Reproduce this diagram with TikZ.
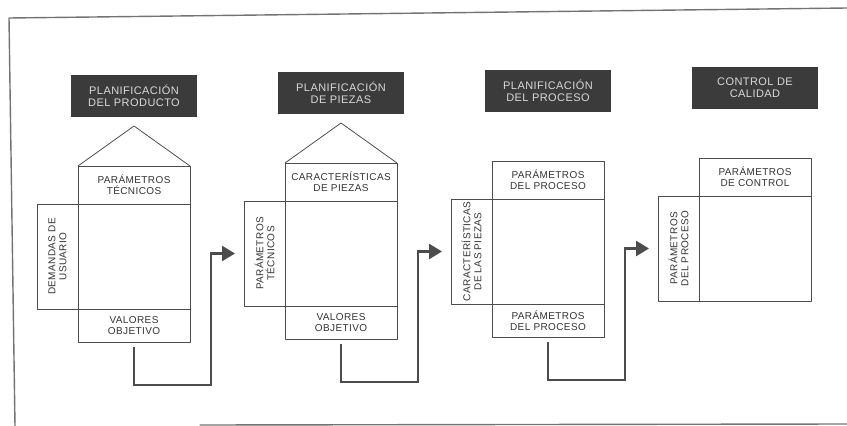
\documentclass[tikz,border=0pt]{standalone}
\usepackage{fontspec}
\setmainfont{Liberation Sans}[LetterSpace=4]
\usetikzlibrary{positioning,arrows.meta}
\definecolor{darkbox}{rgb}{0.23,0.23,0.23}
\definecolor{paletext}{rgb}{0.85,0.85,0.85}
\definecolor{linegray}{rgb}{0.3,0.3,0.3}
\definecolor{arrowgray}{rgb}{0.3,0.3,0.3}

\begin{document}
\begin{tikzpicture}[line cap=round,line join=round,x=1pt,y=-1pt,
  titlebox/.style={fill=darkbox,text=paletext,minimum width=126pt,minimum height=42pt,inner sep=0pt,align=center,font=\fontsize{11}{11.5}\selectfont},
  box/.style={draw=linegray,line width=0.8pt,inner sep=0pt,outer sep=0pt},
  lbl/.style={align=center,text=black!80,font=\fontsize{10}{11}\selectfont},
  flow/.style={draw=arrowgray,line width=2.6pt,line cap=butt,line join=miter,-{Triangle[length=13pt,width=15pt]},shorten <=5pt,shorten >=9pt},
  border/.style={draw=black!55,line width=1.4pt}]
\useasboundingbox (0,0) rectangle (847,426);
\draw[border] (847,8) -- (9,18) -- (15,426);
\draw[border] (200,425) -- (847,424);
% planificacion del producto
\node[box,lbl,minimum width=112pt,minimum height=38pt,anchor=north west] (t1) at (78,166) {PARÁMETROS\\TÉCNICOS};
\node[box,minimum width=112pt,minimum height=105pt,below=0pt of t1] (m1) {};
\node[box,minimum width=41pt,minimum height=105pt,left=0pt of m1] (l1) {};
\node[lbl,rotate=90] (l1txt) at (l1) {DEMANDAS DE\\USUARIO};
\node[box,lbl,minimum width=112pt,minimum height=33pt,below=0pt of m1] (b1) {VALORES\\OBJETIVO};
\node[titlebox,above=49pt of t1] (h1) {PLANIFICACIÓN\\DEL PRODUCTO};
\coordinate (a1) at ([yshift=40pt]t1.north);
\draw[box] (t1.north west) -- (a1) -- (t1.north east);
% planificacion de piezas
\node[box,lbl,minimum width=112pt,minimum height=38pt,anchor=north west] (t2) at (285,163) {CARACTERÍSTICAS\\DE PIEZAS};
\node[box,minimum width=112pt,minimum height=105pt,below=0pt of t2] (m2) {};
\node[box,minimum width=41pt,minimum height=105pt,left=0pt of m2] (l2) {};
\node[lbl,rotate=90] (l2txt) at (l2) {PARÁMETROS\\TÉCNICOS};
\node[box,lbl,minimum width=112pt,minimum height=33pt,below=0pt of m2] (b2) {VALORES\\OBJETIVO};
\node[titlebox,above=49pt of t2] (h2) {PLANIFICACIÓN\\DE PIEZAS};
\coordinate (a2) at ([yshift=40pt]t2.north);
\draw[box] (t2.north west) -- (a2) -- (t2.north east);
% planificacion del proceso
\node[box,lbl,minimum width=112pt,minimum height=38pt,anchor=north west] (t3) at (492,161) {PARÁMETROS\\DEL PROCESO};
\node[box,minimum width=112pt,minimum height=105pt,below=0pt of t3] (m3) {};
\node[box,minimum width=41pt,minimum height=105pt,left=0pt of m3] (l3) {};
\node[lbl,rotate=90] (l3txt) at (l3) {CARACTERÍSTICAS\\DE LAS PIEZAS};
\node[box,lbl,minimum width=112pt,minimum height=33pt,below=0pt of m3] (b3) {PARÁMETROS\\DEL PROCESO};
\node[titlebox,above=49pt of t3] (h3) {PLANIFICACIÓN\\DEL PROCESO};
% control de calidad
\node[box,lbl,minimum width=112pt,minimum height=38pt,anchor=north west] (t4) at (699,158) {PARÁMETROS\\DE CONTROL};
\node[box,minimum width=112pt,minimum height=105pt,below=0pt of t4] (m4) {};
\node[box,minimum width=41pt,minimum height=105pt,left=0pt of m4] (l4) {};
\node[lbl,rotate=90] (l4txt) at (l4) {PARÁMETROS\\DEL PROCESO};
\node[titlebox,above=49pt of t4] (h4) {CONTROL DE\\CALIDAD};
% flechas
\draw[flow] (b1.south) -- ++(0,43) -| ([xshift=-33pt]l2.west) -- (l2.west);
\draw[flow] (b2.south) -- ++(0,43) -| ([xshift=-33pt]l3.west) -- (l3.west);
\draw[flow] (b3.south) -- ++(0,43) -| ([xshift=-33pt]l4.west) -- (l4.west);
\end{tikzpicture}
\end{document}
